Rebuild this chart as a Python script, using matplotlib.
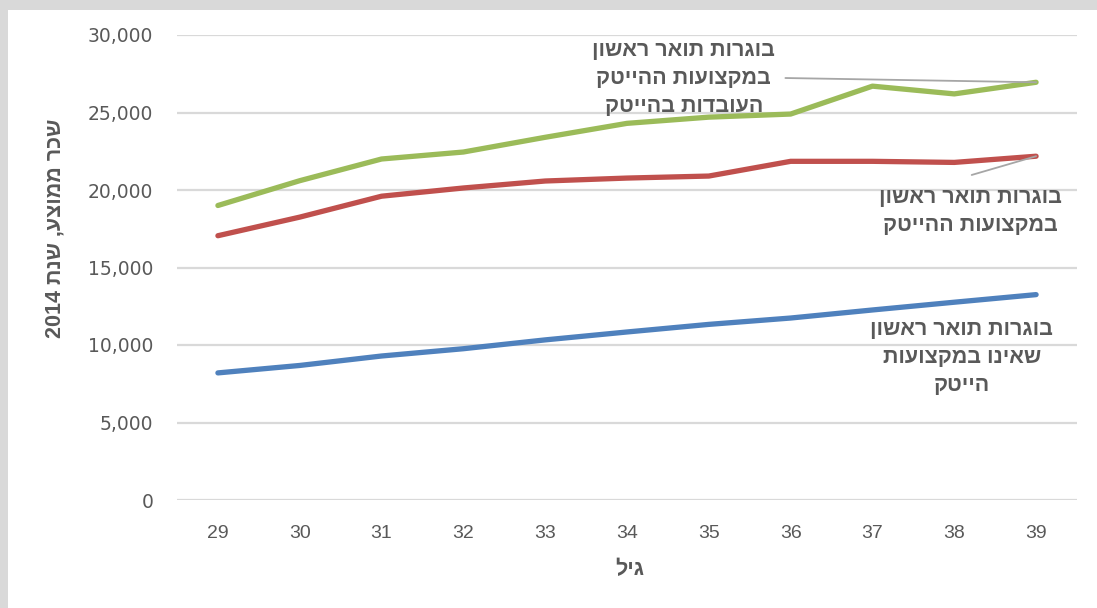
import matplotlib
matplotlib.use("Agg")
import matplotlib.pyplot as plt
from matplotlib.patches import Rectangle
from matplotlib import font_manager
import re

# data
ages = [29, 30, 31, 32, 33, 34, 35, 36, 37, 38, 39]
hitech_working = [19000, 20600, 22000, 22450, 23400, 24300, 24700, 24900, 26700, 26200, 26950]
hitech_degree = [17050, 18250, 19600, 20130, 20580, 20770, 20900, 21850, 21850, 21780, 22180]
non_hitech = [8200, 8680, 9290, 9760, 10330, 10840, 11330, 11740, 12260, 12760, 13250]

label_green = ["בוגרות תואר ראשון", "במקצועות ההייטק", "העובדות בהייטק"]
label_red = ["בוגרות תואר ראשון", "במקצועות ההייטק"]
label_blue = ["בוגרות תואר ראשון", "שאינו במקצועות", "הייטק"]
ylabel = "שכר ממוצע, שנת 2014"
xlabel = "גיל"
yticks = [0, 5000, 10000, 15000, 20000, 25000, 30000]

GREEN = "#9bbb59"
RED = "#c0504d"
BLUE = "#4f81bd"
TXT = "#595959"
GRID = "#d9d9d9"


def rtl(s):
    # matplotlib has no bidi: flip to visual order, keep digit runs readable
    r = s[::-1]
    return re.sub(r"\d+", lambda m: m.group(0)[::-1], r)


def rtl_lines(lines):
    return "\n".join(rtl(l) for l in lines)


# bold Hebrew face
try:
    bold_path = font_manager.findfont(font_manager.FontProperties(family="Liberation Sans", weight="bold"))
    HEB = font_manager.FontProperties(fname=bold_path, size=15.5)
except Exception:
    HEB = font_manager.FontProperties(family="DejaVu Sans", weight="bold", size=14.5)

W, H = 1097, 608
fig = plt.figure(figsize=(W / 100, H / 100), dpi=100)
fig.patch.set_facecolor("#d9d9d9")
fig.patches.append(Rectangle((8 / W, 0), 1, 1 - 10 / H, transform=fig.transFigure,
                             facecolor="white", edgecolor="none", zorder=-5))

ax = fig.add_axes([177 / W, 108 / H, 900 / W, 465 / H])
ax.set_facecolor("none")
ax.set_xlim(28.5, 39.5)
ax.set_ylim(0, 30000)

for s in ax.spines.values():
    s.set_visible(False)
ax.set_yticks(yticks)
ax.set_yticklabels([f"{v:,}" for v in yticks])
ax.set_xticks(ages)
ax.grid(axis="y", color=GRID, linewidth=1.6)
ax.set_axisbelow(True)
ax.tick_params(length=0, colors=TXT)
ax.tick_params(axis="y", labelsize=13.5, pad=17)
ax.tick_params(axis="x", labelsize=14, pad=18)
for lab in ax.get_yticklabels():
    lab.set_family(["DejaVu Sans"])
for lab in ax.get_xticklabels():
    lab.set_family(["Liberation Sans Narrow", "Liberation Sans", "DejaVu Sans"])

kw = dict(linewidth=3.8, solid_capstyle="round", solid_joinstyle="round")
ax.plot(ages, non_hitech, color=BLUE, **kw)
ax.plot(ages, hitech_degree, color=RED, **kw)
ax.plot(ages, hitech_working, color=GREEN, **kw)

tkw = dict(fontproperties=HEB, color=TXT, ha="center", va="center",
           multialignment="center", linespacing=1.45, transform=ax.transAxes)
ax.text(0.563, 0.906, rtl_lines(label_green), **tkw)
ax.text(0.882, 0.620, rtl_lines(label_red), **tkw)
ax.text(0.872, 0.306, rtl_lines(label_blue), **tkw)

leader = dict(arrowstyle="-", color="#a6a6a6", linewidth=1.3, shrinkA=0, shrinkB=0)
ax.annotate("", xy=(ages[-1], hitech_working[-1]), xycoords="data",
            xytext=(0.676, 0.9075), textcoords="axes fraction", arrowprops=leader)
ax.annotate("", xy=(ages[-1], hitech_degree[-1]), xycoords="data",
            xytext=(0.883, 0.699), textcoords="axes fraction", arrowprops=leader)

fig.text(55 / W, 1 - 228 / H, rtl(ylabel), rotation=90, fontproperties=HEB,
         color=TXT, ha="center", va="center")
fig.text(630 / W, 1 - 570 / H, rtl(xlabel), fontproperties=HEB,
         color=TXT, ha="center", va="center")

fig.savefig("out.png", dpi=100, facecolor=fig.get_facecolor())
